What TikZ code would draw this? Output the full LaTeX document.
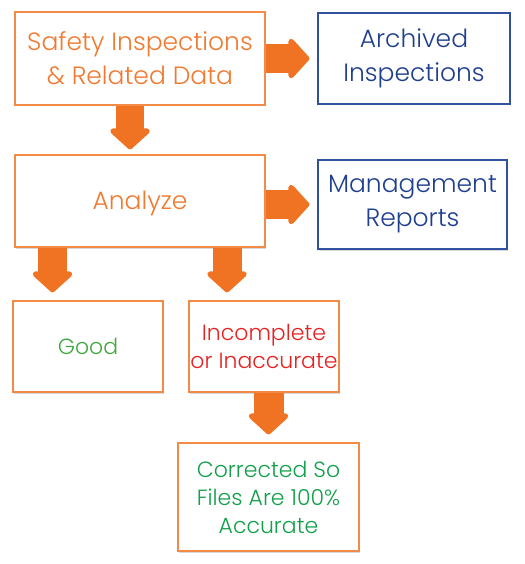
\documentclass[tikz,border=0pt]{standalone}
\usepackage{fontspec}
\setmainfont{Poppins Light}
\usetikzlibrary{arrows.meta,shadows}
\definecolor{arrorange}{HTML}{F07323}
\definecolor{boxorange}{HTML}{F28A48}
\definecolor{txtorange}{HTML}{F07A30}
\definecolor{navy}{HTML}{1F3F8F}
\definecolor{navyline}{HTML}{3050A0}
\definecolor{goodgreen}{HTML}{40A840}
\definecolor{corrgreen}{HTML}{12A04A}
\definecolor{badred}{HTML}{E82020}
\tikzset{
  box/.style={draw, line width=1.3pt, fill=white, inner sep=0pt, align=center,
    drop shadow={shadow xshift=1.2pt, shadow yshift=-1.5pt, opacity=0.25, fill=black!60}},
  obox/.style={box, draw=boxorange},
  bbox/.style={box, draw=navyline, text=navy},
  bigtxt/.style={font=\fontsize{25}{34}\selectfont, execute at begin node={\rule{0pt}{23.5pt}}},
  smalltxt/.style={font=\fontsize{22}{28}\selectfont},
  blockarrow/.style={draw=arrorange, line width=29pt,
    -{Triangle[length=22pt,width=47pt,round]}, arrorange},
}
\begin{document}
\begin{tikzpicture}[x=1pt,y=-1pt]
\useasboundingbox (0,0) rectangle (524,564);
\node[obox, bigtxt, text=txtorange, minimum width=250pt, minimum height=93pt] (safety) at (140,58.5) {Safety Inspections\\\& Related Data};
\node[obox, bigtxt, text=txtorange, minimum width=250pt, minimum height=92pt] (analyze) at (140,201) {Analyze};
\node[bbox, bigtxt, minimum width=192pt, minimum height=91pt] (archived) at (414,58.5) {Archived\\Inspections};
\node[bbox, bigtxt, minimum width=189pt, minimum height=89pt] (mgmt) at (412.5,204.5) {Management\\Reports};
\node[obox, smalltxt, text=goodgreen, minimum width=150pt, minimum height=91pt] (good) at (88,346.5) {Good};
\node[obox, smalltxt, text=badred, minimum width=150pt, minimum height=91pt] (incomplete) at (264,346.5) {Incomplete\\or Inaccurate};
\node[obox, smalltxt, text=corrgreen, minimum width=181pt, minimum height=108pt] (corrected) at (268.5,497) {Corrected So\\Files Are 100\%\\Accurate};
\coordinate (cx1) at (130,0);
\coordinate (cx2) at (52.5,0);
\coordinate (cx3) at (227,0);
\draw[blockarrow, line width=28pt, shorten >=5pt] (safety.south -| cx1) -- (analyze.north -| cx1);
\draw[blockarrow, shorten >=8pt] (safety.east) -- (archived.west);
\draw[blockarrow, shorten >=8pt] (analyze.east |- mgmt.west) -- (mgmt.west);
\draw[blockarrow, shorten >=8pt] (analyze.south -| cx2) -- (good.north -| cx2);
\draw[blockarrow, shorten >=8pt] (analyze.south -| cx3) -- (incomplete.north -| cx3);
\draw[blockarrow, line width=30pt, shorten >=8pt] (incomplete.south -| corrected.north) -- (corrected.north);
\end{tikzpicture}
\end{document}
